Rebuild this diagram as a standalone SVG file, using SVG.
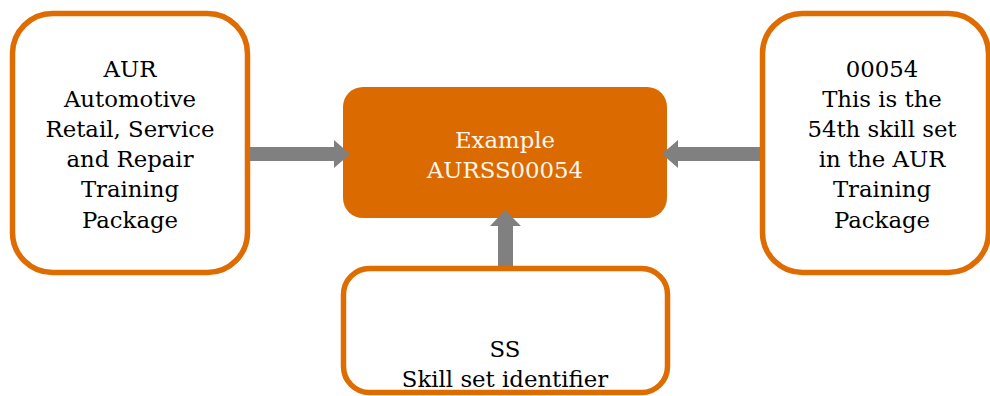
<svg xmlns="http://www.w3.org/2000/svg" width="990" height="396" viewBox="0 0 990 396">
<style>
.box{fill:#ffffff;stroke:#DF6C00;stroke-width:5.5}
.main{fill:#DB6A00}
.t{font-family:"DejaVu Serif","Liberation Serif",serif;font-size:22.8px;fill:#000000;text-anchor:middle}
.tw{fill:#FFF6EE}
.arrow{fill:#808080}
</style>
<rect width="990" height="396" fill="#ffffff"/>
<g id="node-aur">
<rect class="box" x="12.5" y="13.5" width="235" height="259" rx="40"/>
<text class="t" x="130" y="77">AUR</text>
<text class="t" x="130" y="107">Automotive</text>
<text class="t" x="130" y="137">Retail, Service</text>
<text class="t" x="130" y="167">and Repair</text>
<text class="t" x="130" y="197">Training</text>
<text class="t" x="130" y="228">Package</text>
</g>
<g id="node-example">
<rect class="main" x="343" y="87" width="324" height="131" rx="20"/>
<text class="t tw" x="505" y="148">Example</text>
<text class="t tw" x="505" y="178">AURSS00054</text>
</g>
<g id="node-00054">
<rect class="box" x="762.5" y="13.5" width="226" height="259" rx="40"/>
<text class="t" x="882" y="77">00054</text>
<text class="t" x="882" y="107">This is the</text>
<text class="t" x="882" y="137">54th skill set</text>
<text class="t" x="882" y="167">in the AUR</text>
<text class="t" x="882" y="197">Training</text>
<text class="t" x="882" y="228">Package</text>
</g>
<g id="node-ss">
<rect class="box" x="343.5" y="268.5" width="324" height="124" rx="26"/>
<text class="t" x="505" y="357">SS</text>
<text class="t" x="505" y="387">Skill set identifier</text>
</g>
<g id="connectors">
<polygon class="arrow" points="250,147 334,147 334,140 350,154 334,168 334,161 250,161"/>
<polygon class="arrow" points="760,147 678,147 678,140 662,154 678,168 678,161 760,161"/>
<polygon class="arrow" points="498,266 498,226 490,226 505,210 521,226 513,226 513,266"/>
</g>
</svg>
